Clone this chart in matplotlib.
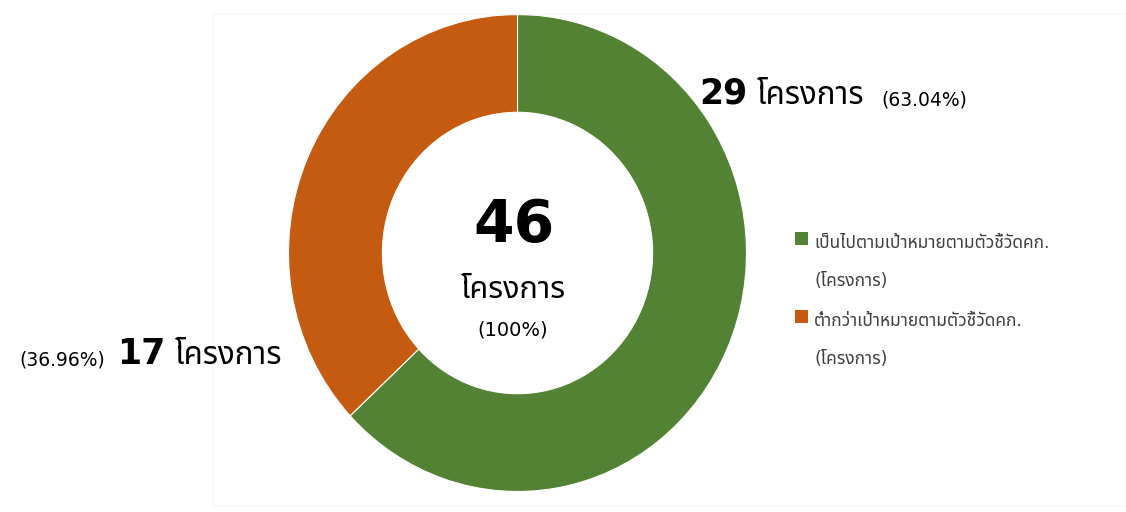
import matplotlib
matplotlib.use("Agg")
import matplotlib.pyplot as plt
from matplotlib import font_manager
from matplotlib.ft2font import FT2Font
from matplotlib.patches import Rectangle

categories = ["เป็นไปตามเป้าหมายตามตัวชี้วัดคก.\n(โครงการ)",
              "ต่ำกว่าเป้าหมายตามตัวชี้วัดคก.\n(โครงการ)"]
values = [29, 17]
colors = ["#548235", "#C55A11"]
unit = "โครงการ"

# find a font with Thai glyphs
thai_font = None
pref = ["Noto Sans Thai", "Noto Sans Thai UI", "Tahoma", "Leelawadee UI", "Loma",
        "Garuda", "Norasi", "Sarabun", "TH Sarabun New", "Waree", "Kinnari"]
cands = {}
for f in font_manager.fontManager.ttflist:
    try:
        cm = FT2Font(f.fname).get_charmap()
        if 0x0E42 in cm and 0x0E04 in cm:
            cands.setdefault(f.name, f.fname)
    except Exception:
        pass
for p in pref:
    if p in cands:
        thai_font = p
        break
if thai_font is None and cands:
    thai_font = sorted(cands)[0]
fams = ["DejaVu Sans"] + ([thai_font] if thai_font else [])
plt.rcParams["font.family"] = fams

W, H = 1126, 512
fig = plt.figure(figsize=(W / 100, H / 100), dpi=100)


def fx(x):
    return x / W


def fy(y):
    return (H - y) / H


# faint chart-area border
fig.add_artist(Rectangle((fx(213), fy(505)), fx(1126 - 213), (505 - 14) / H,
                         transform=fig.transFigure, fill=False,
                         edgecolor="#f6f6f6", linewidth=1))

cx, cy, rx, ry = 517.5, 253, 229, 238.5
ax = fig.add_axes([(cx - rx) / W, (H - cy - ry) / H, 2 * rx / W, 2 * ry / H])
wedges, _ = ax.pie(values, colors=colors, startangle=90, counterclock=False,
                   radius=1, wedgeprops=dict(width=0.41, edgecolor="white", linewidth=0.8))
ax.set_aspect("auto")
ax.set_xlim(-1, 1)
ax.set_ylim(-1, 1)
ax.axis("off")

total = sum(values)
pcts = [v / total * 100 for v in values]

# center texts
fig.text(fx(514), fy(242), f"{total}", ha="center", va="baseline", fontsize=42,
         fontweight="bold", color="black")
fig.text(fx(513), fy(298), unit, ha="center", va="baseline", fontsize=22, color="black")
fig.text(fx(513), fy(336), "(100%)", ha="center", va="baseline", fontsize=14, color="black")

# green label
fig.text(fx(699), fy(104), f"{values[0]}", ha="left", va="baseline", fontsize=25,
         fontweight="bold", color="black")
fig.text(fx(757), fy(104), unit, ha="left", va="baseline", fontsize=22.5, color="black")
fig.text(fx(881), fy(106), f"({pcts[0]:.2f}%)", ha="left", va="baseline", fontsize=13.5,
         color="black")

# orange label
fig.text(fx(19), fy(365), f"({pcts[1]:.2f}%)", ha="left", va="baseline", fontsize=13.5,
         color="black")
fig.text(fx(117), fy(364), f"{values[1]}", ha="left", va="baseline", fontsize=25,
         fontweight="bold", color="black")
fig.text(fx(175), fy(364), unit, ha="left", va="baseline", fontsize=22.5, color="black")

# legend (handle aligned with first line of each label)
leg_tops = [232, 310]
for cat, col, top in zip(categories, colors, leg_tops):
    fig.add_artist(Rectangle((fx(795), fy(top + 13)), 13 / W, 13 / H,
                             transform=fig.transFigure, facecolor=col, edgecolor="none"))
    for i, line in enumerate(cat.split("\n")):
        fig.text(fx(814), fy(top + 16 + i * 37.5), line, ha="left", va="baseline",
                 fontsize=12.5, color="#404040")

fig.savefig("out.png", dpi=100, facecolor="white")
